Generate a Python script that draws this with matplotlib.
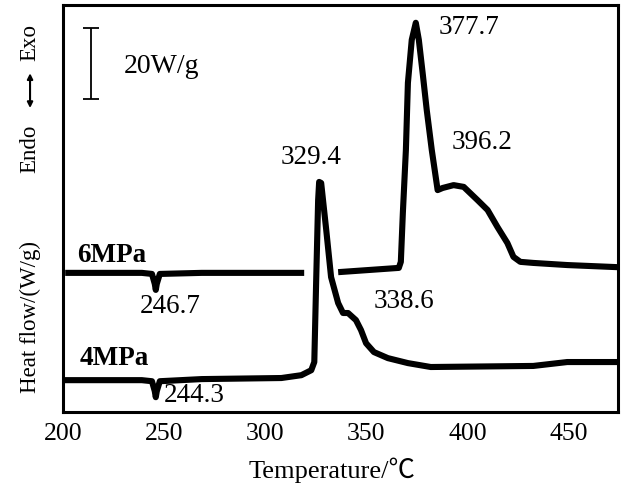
import matplotlib
matplotlib.use("Agg")
import matplotlib.pyplot as plt

plt.rcParams['font.family'] = ['Liberation Serif', 'Noto Sans CJK SC', 'DejaVu Sans']

# DSC curves, temperature (C) and heat flow (W/g, offset per trace)
t_6mpa = [201.1, 239.0, 244.0, 245.4, 245.9, 246.4, 247.9, 268.6, 319.3, None,
          336.1, 366.1, 367.1, 368.1, 369.6, 370.6, 372.5, 374.5, 376.0, 378.0,
          379.9, 382.4, 385.3, 387.8, 393.2, 398.2, 405.0, 410.0, 414.9, 419.8,
          422.8, 426.2, 432.6, 449.4, 474.5]
hf_6mpa = [39.2, 39.2, 38.9, 36.1, 34.4, 36.1, 38.9, 39.2, 39.2, None,
           39.4, 40.6, 42.3, 56.1, 73.8, 92.7, 104.8, 109.6, 104.8, 94.9,
           85.1, 73.8, 62.5, 63.1, 63.9, 63.4, 59.7, 56.9, 52.1, 47.6,
           43.7, 42.3, 42.0, 41.4, 40.8]

t_4mpa = [201.1, 239.0, 244.0, 245.4, 245.9, 246.4, 247.9, 268.6, 308.0, 317.9,
          322.8, 324.3, 325.2, 326.2, 326.7, 327.7, 330.2, 332.6, 336.1, 338.5,
          341.0, 344.9, 347.4, 349.9, 353.8, 360.7, 370.6, 381.9, 432.6, 449.4, 474.5]
hf_4mpa = [9.0, 9.0, 8.7, 5.9, 4.2, 5.9, 8.7, 9.3, 9.6, 10.4,
           11.8, 14.1, 36.3, 59.7, 64.8, 64.5, 51.3, 38.0, 30.7, 27.9,
           27.9, 25.9, 23.1, 19.4, 16.9, 15.2, 13.8, 12.7, 13.0, 14.1, 14.1]

xticks = [200, 250, 300, 350, 400, 450]
scale_wg = 20

fig = plt.figure(figsize=(6.26, 4.86), dpi=100)
ax = fig.add_axes([0.1006, 0.152, 0.8866, 0.8377])

t6 = [float('nan') if v is None else v for v in t_6mpa]
h6 = [float('nan') if v is None else v for v in hf_6mpa]
ax.plot(t6, h6, color='black', lw=4.4, solid_joinstyle='round', solid_capstyle='butt')
ax.plot(t_4mpa, hf_4mpa, color='black', lw=4.4, solid_joinstyle='round')

ax.set_xlim(201, 474.5)
ax.set_ylim(0, 114.6)
ax.set_xticks(xticks)
ax.set_yticks([])
ax.tick_params(axis='x', length=0, pad=8, labelsize=18.5)
for s in ax.spines.values():
    s.set_linewidth(2.2)

# scale bar
ax.errorbar([213.9], [98.2], yerr=scale_wg / 2, color='black', lw=1.3,
            capsize=5.5, capthick=1.3)
ax.text(248.9, 97.2, '%dW/g' % scale_wg, fontsize=20, ha='center', va='center')

ax.text(224.3, 44.2, '6MPa', fontsize=19.5, fontweight='bold', ha='center', va='center')
ax.text(225.3, 15.2, '4MPa', fontsize=19.5, fontweight='bold', ha='center', va='center')

ax.text(252.8, 29.6, '246.7', fontsize=19.5, ha='center', va='center')
ax.text(265.1, 4.8, '244.3', fontsize=19.5, ha='center', va='center')
ax.text(322.8, 71.8, '329.4', fontsize=19.5, ha='center', va='center')
ax.text(400.6, 108.2, '377.7', fontsize=19.5, ha='center', va='center')
ax.text(407.5, 75.8, '396.2', fontsize=19.5, ha='center', va='center')
ax.text(368.6, 31.0, '338.6', fontsize=19.5, ha='center', va='center')

fig.text(0.530, 0.033, 'Temperature/℃', fontsize=19, ha='center', va='center')
fig.text(0.048, 0.348, 'Heat flow/(W/g)', fontsize=16.5, rotation=90, ha='center', va='center')
fig.text(0.048, 0.693, 'Endo', fontsize=16.5, rotation=90, ha='center', va='center')
fig.text(0.048, 0.912, 'Exo', fontsize=16.5, rotation=90, ha='center', va='center')
ax.annotate('', xy=(0.048, 0.855), xytext=(0.048, 0.772),
            xycoords='figure fraction', textcoords='figure fraction',
            arrowprops=dict(arrowstyle='<|-|>', color='black', lw=1.5,
                            mutation_scale=8))

fig.savefig('out.png', dpi=100)
